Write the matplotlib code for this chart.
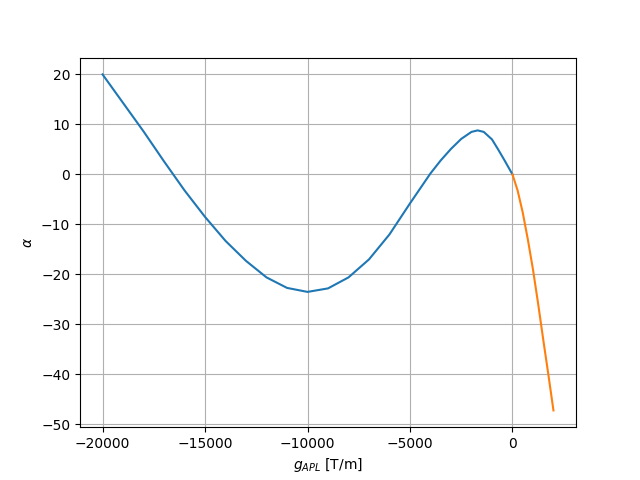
import matplotlib
matplotlib.use("Agg")
import matplotlib.pyplot as plt

g_neg = [-20000, -19000, -18000, -17000, -16000, -15000, -14000, -13000, -12000, -11000,
         -10000, -9000, -8000, -7000, -6000, -5000, -4000, -3500, -3000, -2500, -2000,
         -1700, -1400, -1000, -700, -400, 0]
a_neg = [20.0, 14.3, 8.6, 2.6, -3.2, -8.5, -13.3, -17.3, -20.6, -22.7,
         -23.5, -22.8, -20.6, -17.0, -12.0, -5.8, 0.2, 2.8, 5.1, 7.1, 8.5,
         8.8, 8.5, 7.0, 5.0, 2.9, 0.0]
g_pos = [0, 250, 500, 750, 1000, 1250, 1500, 1750, 2000]
a_pos = [0.0, -3.2, -7.6, -13.0, -19.0, -25.8, -33.0, -40.0, -47.2]

fig, ax = plt.subplots(figsize=(6.4, 4.8), dpi=100)
ax.plot(g_neg, a_neg)
ax.plot(g_pos, a_pos)
ax.set_xlabel(r"$g_{APL}$ [T/m]")
ax.set_ylabel(r"$\alpha$")
ax.grid(True)
fig.savefig("out.png")
